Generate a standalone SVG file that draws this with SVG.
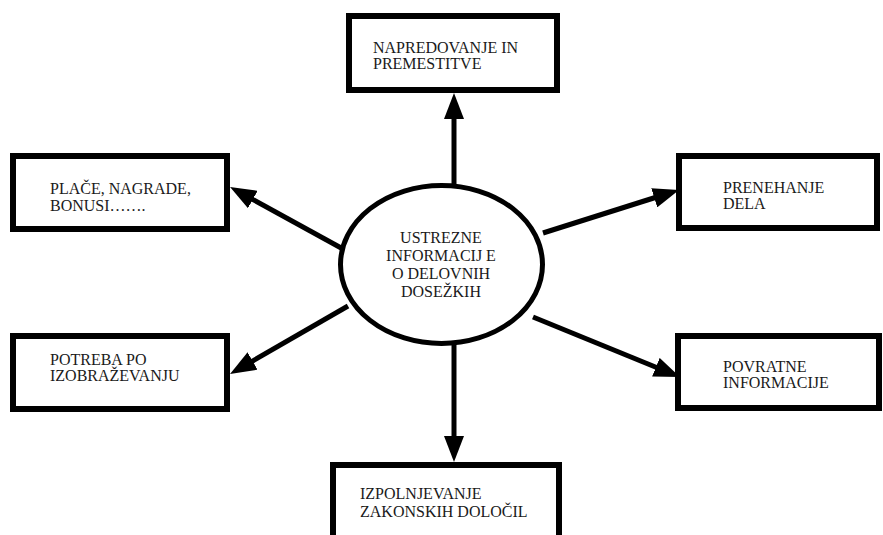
<svg xmlns="http://www.w3.org/2000/svg" width="883" height="535" viewBox="0 0 883 535">
  <defs>
    <marker id="head" markerUnits="userSpaceOnUse" markerWidth="26" markerHeight="20" refX="16" refY="10" orient="auto">
      <path d="M0,0 L26,10 L0,20 Z" fill="#000"/>
    </marker>
  </defs>
  <style>
    .box { fill: #fff; stroke: #000; stroke-width: 6; }
    .hub { fill: #fff; stroke: #000; stroke-width: 5; }
    .lbl { font-family: "Liberation Serif", "Times New Roman", serif; font-size: 16px; fill: #1a1a1a; }
    .mid { text-anchor: middle; }
    .link { stroke: #000; stroke-width: 5; fill: none; marker-end: url(#head); }
  </style>
  <rect width="883" height="535" fill="#fff"/>

  <g id="connectors">
    <line class="link" x1="454" y1="186" x2="454" y2="103"/>
    <line class="link" x1="343" y1="249" x2="238.8" y2="191.8"/>
    <line class="link" x1="543" y1="233" x2="669.5" y2="193"/>
    <line class="link" x1="348" y1="306" x2="238.7" y2="369"/>
    <line class="link" x1="533" y1="317" x2="670.7" y2="373.2"/>
    <line class="link" x1="454" y1="344" x2="454" y2="452"/>
  </g>

  <g id="hub">
    <ellipse class="hub" cx="441.5" cy="264.5" rx="101" ry="79"/>
    <text class="lbl mid" x="441" y="243">USTREZNE</text>
    <text class="lbl mid" x="441" y="261">INFORMACIJ E</text>
    <text class="lbl mid" x="441" y="279">O DELOVNIH</text>
    <text class="lbl mid" x="441" y="297">DOSEŽKIH</text>
  </g>

  <g id="napredovanje">
    <rect class="box" x="349" y="16" width="208" height="74"/>
    <text class="lbl" x="373" y="53">NAPREDOVANJE IN</text>
    <text class="lbl" x="373" y="69">PREMESTITVE</text>
  </g>

  <g id="place">
    <rect class="box" x="13" y="156" width="214" height="73"/>
    <text class="lbl" x="50" y="194">PLAČE, NAGRADE,</text>
    <text class="lbl" x="50" y="211">BONUSI…….</text>
  </g>

  <g id="prenehanje">
    <rect class="box" x="679" y="156" width="198" height="72"/>
    <text class="lbl" x="723" y="193">PRENEHANJE</text>
    <text class="lbl" x="723" y="209">DELA</text>
  </g>

  <g id="izobrazevanje">
    <rect class="box" x="13" y="336" width="214" height="73"/>
    <text class="lbl" x="50" y="365">POTREBA PO</text>
    <text class="lbl" x="50" y="381">IZOBRAŽEVANJU</text>
  </g>

  <g id="povratne">
    <rect class="box" x="678" y="336" width="201" height="72"/>
    <text class="lbl" x="723" y="372">POVRATNE</text>
    <text class="lbl" x="723" y="388">INFORMACIJE</text>
  </g>

  <g id="zakonska-dolocila">
    <rect class="box" x="333" y="465" width="226" height="80"/>
    <text class="lbl" x="360" y="499">IZPOLNJEVANJE</text>
    <text class="lbl" x="360" y="517">ZAKONSKIH DOLOČIL</text>
  </g>
</svg>
